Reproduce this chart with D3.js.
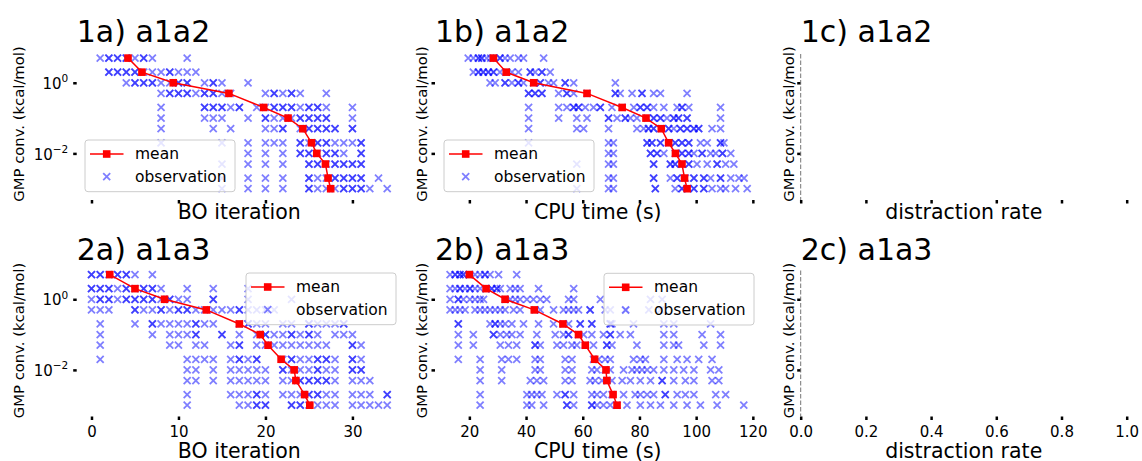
<!DOCTYPE html>
<html><head><meta charset="utf-8">
<script src="https://cdn.jsdelivr.net/npm/d3@7"></script>
<style>body{margin:0;background:#fff} svg{display:block}</style>
</head><body><svg id="c" width="1142" height="461"></svg>
<script>
// ---------- data ----------
const levels = [5, 2, 1, 0.5, 0.2, 0.1, 0.05, 0.02, 0.01, 0.005, 0.002, 0.001];
const yTickValues = [1, 0.01];
const iterTicks = [0, 10, 20, 30];
const cpuTicks = [20, 40, 60, 80, 100, 120];
const rateTicks = [0, 0.2, 0.4, 0.6, 0.8, 1.0];
const rowTitles = ["a1a2", "a1a3"];
const xLabels = ["BO iteration", "CPU time (s)", "distraction rate"];
const yLabel = "GMP conv. (kcal/mol)";
const legendLabels = ["mean", "observation"];

const mean1a = [4.2, 5.8, 9.4, 15.8, 19.8, 22.6, 24.3, 25.3, 25.9, 26.9, 27.2, 27.5];
const mean1b = [28.5, 33.0, 42.7, 61.5, 73.9, 82.3, 87.7, 90.3, 92.7, 95.0, 95.9, 96.8];
const mean2a = [2.1, 5.0, 8.4, 13.2, 17.0, 19.4, 20.3, 21.8, 23.3, 23.5, 24.5, 25.1];
const mean2b = [20.0, 25.9, 32.6, 42.9, 53.0, 58.5, 60.9, 64.2, 68.2, 68.5, 70.7, 72.1];

const obs1a = [
  [1,2,2,3,3,4,4,5,6,6,7,11],
  [2,2,3,3,4,4,5,5,6,7,8,9,9,10,11,12],
  [4,5,5,6,6,7,7,8,9,10,10,11,11,13,14,14,15,18],
  [8,9,9,10,10,11,11,12,13,13,14,14,15,16,20,21,21,22,23,23,24,27],
  [8,13,13,14,14,15,15,16,17,17,19,20,21,21,22,22,23,23,24,25,25,26,26,27,30],
  [8,13,14,15,18,20,20,21,22,23,24,24,25,25,26,26,27,27,30],
  [8,14,16,20,21,22,22,24,25,25,26,26,27,27,28,28,30,30],
  [8,15,18,20,21,22,24,24,25,26,26,27,27,28,29,30,31,31],
  [18,20,22,24,24,25,25,26,27,27,28,28,29,31,31],
  [15,18,20,22,25,25,26,26,27,28,28,29,29,30,30,31,31],
  [15,18,20,22,25,25,26,27,28,28,29,29,30,30,31,31,33],
  [15,18,20,22,25,25,26,27,28,29,29,30,30,31,31,32,34]
];
const obs1b = [
  [19.6,21.4,23.2,23.2,24.4,24.4,26.1,27.5,28.5,30.8,30.8,32.6,34.4,37.3,39.1,46.2],
  [21.4,23.2,23.2,24.9,24.9,26.7,26.7,28.5,28.5,30.8,33.2,35,37.3,41.5,41.5,43.2,45.6,45.6,48.5],
  [27.3,29.1,32.6,32.6,35,37.3,37.3,39.1,42.6,45,45,47.9,49.7,53.8,53.8,56.8,71.5],
  [40.9,40.9,43.2,43.2,45.6,45.6,51.5,54.4,54.4,56.8,61.5,71.5,71.5,73.2,77.4,80.9,80.9,85,87.4,96.8],
  [40.9,51.5,54.4,56.8,56.8,58.5,58.5,60.9,63.8,66.2,66.2,70.3,73.9,78,80.3,80.3,82.7,82.7,85,88.6,93.3,95,95,97.4,108.6],
  [40.9,51.5,57.9,61.5,69.1,69.1,72.1,75,75,76.8,79.1,82.7,85,85,87.4,87.4,89.7,92.1,92.1,93.8,93.8,96.8,96.8,108.6],
  [40.9,57.9,60.3,69.1,79.1,81.5,83.2,83.2,85,85,87.6,90.3,90.3,92.1,94.4,94.4,96.8,96.8,99.2,99.2,100.9,100.9,105.6,108.6],
  [40.9,69.1,70.8,82.7,82.7,84.4,84.4,87.4,87.4,90.3,92.6,92.6,95,95,97.4,97.4,101.5,103.9,108.6,108.6,109.8],
  [69.1,70.8,83.9,83.9,86.2,86.2,88.6,92.6,95,95,97.4,97.4,99.2,102.1,102.1,105.1,106.9,109.3,109.3,112.2],
  [57.9,69.1,70.8,85,85,90.9,90.9,92.6,92.6,95,97.4,97.4,100.3,103.9,107.4,107.4,110.4,113.3],
  [69.1,70.8,85,85,90.9,93.3,93.3,96.2,99.2,99.2,102.7,102.7,105.1,108.6,108.6,112.2,115.1,116.9],
  [57.9,69.1,70.8,85.6,85.6,92.6,95,95,97,99.2,99.2,102.7,102.7,105.6,108.6,110.4,113.9,118]
];
const obs2a = [
  [0,0,1,1,2,3,3,4,4,5,7],
  [0,0,1,1,2,2,3,4,4,5,6,6,7,7,8,11,14,18],
  [0,1,1,2,2,3,4,4,5,5,6,6,7,7,8,9,9,10,11,14,14,18,23],
  [0,1,2,5,5,6,7,8,8,9,10,10,11,11,12,13,14,15,16,17,17,18,19,20,21],
  [1,5,7,7,8,9,10,11,12,12,13,14,17,18,18,19,20,22,23,25,25,26,27,28,29,29],
  [1,7,9,10,11,12,12,15,15,17,19,20,20,21,22,23,23,24,25,25,26,28,29,30],
  [1,9,10,12,13,16,17,17,19,20,21,22,23,24,25,26,27,30,30,31],
  [1,11,12,13,14,16,17,17,18,19,19,22,23,23,24,25,26,26,27,27,28,30,30,31],
  [11,12,14,16,17,18,19,20,22,22,23,24,25,26,26,27,28,30,30,31,31],
  [11,12,14,16,17,18,19,20,22,23,24,24,25,25,26,26,27,27,28,30,31,32],
  [11,16,17,18,19,19,20,22,23,24,25,25,26,26,27,28,30,31,32,34,34],
  [11,17,18,19,19,20,20,23,23,24,24,25,26,27,28,30,31,32,33,34]
];
const obs2b = [
  [13.2,15,15,16.7,16.7,17.9,17.9,20,22,23.8,25.5,25.5,27.3,30.3,36.7],
  [13.2,15,16.7,16.7,18.5,20.2,20.2,22,23.8,25.9,27.9,27.9,29.7,29.7,30.9,34.4,36.2,37.9,44.4,56.8],
  [13.2,16.1,16.1,17.9,20.2,22,23.8,25,32.6,34.4,36.2,37.9,40.3,42.6,45,47.3,55,56.8,66.2,83.9,88],
  [13.2,15,16.7,18.5,22,23.8,25.5,27.3,29.1,30.9,32.6,35.6,37.9,43.2,45,49.7,53.2,55,56.8,58.5,62.6,62.6,67.9,69.7,75,83.3,87.4],
  [16.1,16.1,27.3,29.1,29.1,30.9,32.6,35,39.1,44.4,49.7,53.2,55,59.1,59.1,63.2,63.2,69.7,69.7,70.3,77.9,88.6,92.1,105.1],
  [16.1,21.4,28.5,28.5,30.9,33.2,35,37.9,43.8,50.3,53.2,55,55,58.5,60.3,63.2,67.3,69.7,69.7,73.2,76.8,88.6,92.1,102.1,108.6],
  [16.1,21.4,30.9,33.8,36.7,43.2,43.2,45,50.9,53.2,56.2,57.9,60.9,63.8,68.5,68.5,70.3,79.1,88.6,92.1,93.8,102.7,108.6],
  [16.1,23.8,31.4,33.8,36.7,43.2,45,53.8,56.2,63.8,65.6,67.9,69.7,77.9,80.3,82.1,88.6,93.3,96.8,100.9,105.6],
  [23.8,31.4,43.2,45,53.8,56.2,63.2,65,67.9,69.7,74.4,77.4,79.1,80.9,82.7,85,88.6,92.1,95.6,99.2,105.1,108],
  [23.8,31.4,41.5,43.8,46.2,53.8,56.2,62.6,64.4,66.8,68.5,70.3,73.9,76.8,80.3,83.9,88,88,92.1,96.2,99.2,105.6,108],
  [23.8,40.3,42,43.8,45.6,50.9,53.8,53.8,56.8,63.2,65,67.3,70.3,74.4,78.5,80.3,82.7,85,89.1,89.1,93.3,96.2,99.2,106.9,110.4],
  [23.8,40.3,42,46.2,54.4,54.4,56.8,63.2,63.2,65,67.3,69.7,72.1,75.6,80.3,83.9,87.4,92.1,96.8,101.5,107.4,116.8]
];

// ---------- layout ----------
const FONT = "DejaVu Sans, Liberation Sans, sans-serif";
const colLeft = [76.7, 435, 800.7];
const colW = [325.3, 325.5, 326];
const rowTop = [54, 270.5];
const rowH = 146;
const titleBase = [41.5, 260];
const xLabelBase = [219, 458];
const yLabelX = [24, 427, 793.5];
const xDomains = [[-1.7, 35.7], [7.88, 122.7], [0, 1]];
const xTicksByCol = [iterTicks, cpuTicks, rateTicks];
const xFmt = [d3.format("d"), d3.format("d"), d3.format(".1f")];

const panels = [
  {row:0, col:0, letter:"a", obs:obs1a, mean:mean1a, legend:[85, 140]},
  {row:0, col:1, letter:"b", obs:obs1b, mean:mean1b, legend:[444, 140]},
  {row:0, col:2, letter:"c"},
  {row:1, col:0, letter:"a", obs:obs2a, mean:mean2a, legend:[246, 273]},
  {row:1, col:1, letter:"b", obs:obs2b, mean:mean2b, legend:[604, 273.3]},
  {row:1, col:2, letter:"c"}
];

const svg = d3.select("#c");
const OBS_COLOR = "#0000ff", MEAN_COLOR = "#ff0000";
const xs = 3.5;
const xPath = `M${-xs},${-xs}L${xs},${xs}M${-xs},${xs}L${xs},${-xs}`;
const SQ = 7.6;

panels.forEach(p => {
  const L = colLeft[p.col], T = rowTop[p.row], W = colW[p.col], H = rowH;
  const x = d3.scaleLinear().domain(xDomains[p.col]).range([0, W]);
  const y = d3.scaleLog().domain([Math.pow(10, -3.32), Math.pow(10, 0.815)]).range([H, 0]);
  const g = svg.append("g").attr("transform", `translate(${L},${T})`);

  // x axis
  const showX = p.row === 1;
  const gx = g.append("g").attr("transform", `translate(0,${H})`)
    .call(d3.axisBottom(x).tickValues(xTicksByCol[p.col]).tickSize(3.5)
      .tickFormat(showX ? xFmt[p.col] : () => ""));
  gx.select(".domain").remove();
  gx.selectAll("line").attr("stroke", "#000").attr("stroke-width", 2.5);
  gx.selectAll("text").attr("y", 20.8).attr("dy", null)
    .attr("font-family", FONT).attr("font-size", 15).attr("fill", "#000");

  // y axis
  const gy = g.append("g")
    .call(d3.axisLeft(y).tickValues(yTickValues).tickSize(3.5).tickFormat(() => ""));
  gy.select(".domain").remove();
  gy.selectAll("line").attr("stroke", "#000").attr("stroke-width", 2.5);
  if (p.col === 0) {
    gy.selectAll(".tick text").each(function(d) {
      const t = d3.select(this);
      t.text(null).attr("x", -8.4).attr("dy", null).attr("y", 5.6)
        .attr("text-anchor", "end").attr("font-family", FONT).attr("font-size", 15).attr("fill", "#000");
      const e = Math.round(Math.log10(d));
      t.append("tspan").text("10");
      t.append("tspan").attr("font-size", 10.5).attr("dy", -6.6).text(e < 0 ? "\u2212" + (-e) : String(e));
    });
  }

  if (p.col === 2) {
    g.append("line").attr("x1", 0).attr("x2", 0).attr("y1", 0).attr("y2", H)
      .attr("stroke", "#666").attr("stroke-width", 0.9).attr("stroke-dasharray", "4.5,2");
  }

  // titles and labels
  svg.append("text").attr("x", L).attr("y", titleBase[p.row])
    .attr("font-family", FONT).attr("font-size", 30).attr("fill", "#000")
    .text(`${p.row + 1}${p.letter}) ${rowTitles[p.row]}`);
  svg.append("text").attr("x", L + W / 2).attr("y", xLabelBase[p.row])
    .attr("text-anchor", "middle").attr("font-family", FONT).attr("font-size", 20.5).attr("fill", "#000")
    .text(xLabels[p.col]);
  const cy = T + H / 2 - 3;
  svg.append("text").attr("transform", `translate(${yLabelX[p.col]},${cy}) rotate(-90)`)
    .attr("text-anchor", "middle").attr("font-family", FONT).attr("font-size", 14.8).attr("fill", "#000")
    .text(yLabel);

  if (!p.obs) return;

  // observations
  const pts = [];
  p.obs.forEach((row, i) => row.forEach(v => pts.push([v, levels[i]])));
  g.append("g").selectAll("path").data(pts).join("path")
    .attr("transform", d => `translate(${x(d[0])},${y(d[1])})`)
    .attr("d", xPath).attr("fill", "none")
    .attr("stroke", OBS_COLOR).attr("stroke-opacity", 0.5).attr("stroke-width", 1.8);

  // mean
  const md = p.mean.map((v, i) => [v, levels[i]]);
  g.append("path").datum(md)
    .attr("d", d3.line().x(d => x(d[0])).y(d => y(d[1])))
    .attr("fill", "none").attr("stroke", MEAN_COLOR).attr("stroke-width", 1.5);
  g.append("g").selectAll("rect").data(md).join("rect")
    .attr("x", d => x(d[0]) - SQ / 2).attr("y", d => y(d[1]) - SQ / 2)
    .attr("width", SQ).attr("height", SQ).attr("fill", MEAN_COLOR);

  // legend
  const [lx, ly] = p.legend;
  const lg = svg.append("g").attr("transform", `translate(${lx},${ly})`);
  lg.append("rect").attr("x", 0).attr("y", 0).attr("width", 150).attr("height", 51.7)
    .attr("rx", 3).attr("fill", "#fff").attr("fill-opacity", 0.8)
    .attr("stroke", "#cccccc").attr("stroke-width", 1);
  lg.append("line").attr("x1", 5).attr("x2", 38.5).attr("y1", 14).attr("y2", 14)
    .attr("stroke", MEAN_COLOR).attr("stroke-width", 1.5);
  lg.append("rect").attr("x", 21.7 - SQ / 2).attr("y", 14 - SQ / 2).attr("width", SQ).attr("height", SQ).attr("fill", MEAN_COLOR);
  lg.append("path").attr("transform", "translate(21.7,36.7)").attr("d", xPath)
    .attr("fill", "none").attr("stroke", OBS_COLOR).attr("stroke-opacity", 0.5).attr("stroke-width", 1.8);
  lg.append("text").attr("x", 50).attr("y", 18.5).attr("font-family", FONT).attr("font-size", 15.5).text(legendLabels[0]);
  lg.append("text").attr("x", 50).attr("y", 41.5).attr("font-family", FONT).attr("font-size", 15.5).text(legendLabels[1]);
});
</script></body></html>
